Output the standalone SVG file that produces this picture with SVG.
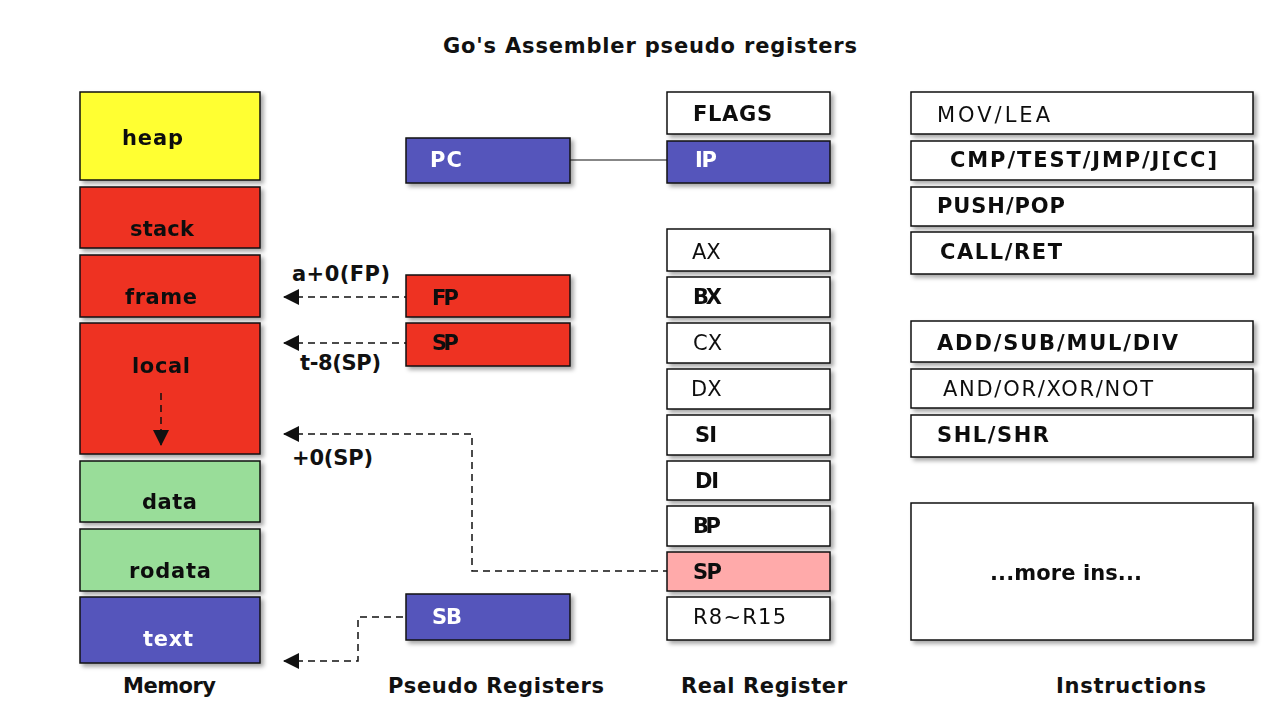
<svg xmlns="http://www.w3.org/2000/svg" width="1282" height="714" viewBox="0 0 1282 714">
<style>
.b{stroke:#111;stroke-width:1.5}
.y{fill:#FFFF33}.r{fill:#EE3322}.g{fill:#99DD99}.u{fill:#5555BB}.w{fill:#FFFFFF}.p{fill:#FFAAAA}
text{font-family:"DejaVu Sans","Liberation Sans",sans-serif;font-weight:bold;font-size:21px;fill:#111}
.lt{font-weight:normal}
.wt{fill:#FFFFFF}
.d{fill:none;stroke:#111;stroke-width:1.5;stroke-dasharray:7,5}
</style>
<defs>
<filter id="sh" x="-10%" y="-10%" width="130%" height="140%">
<feDropShadow dx="3" dy="3" stdDeviation="2" flood-color="#000" flood-opacity="0.35"/>
</filter>
<marker id="ad" viewBox="0 0 16 16" refX="15" refY="8" markerWidth="16" markerHeight="16" markerUnits="userSpaceOnUse" orient="auto-start-reverse">
<path d="M0,0 L16,8 L0,16 Z" fill="#111"/>
</marker>
</defs>
<rect width="1282" height="714" fill="#FFFFFF"/>
<text x="443" y="53" textLength="414">Go's Assembler pseudo registers</text>

<g id="memory" filter="url(#sh)">
<g id="heap"><rect class="b y" x="80" y="92" width="180" height="88"/><text x="122" y="145" textLength="61">heap</text></g>
<g id="stack"><rect class="b r" x="80" y="187" width="180" height="61"/><text x="130" y="236" textLength="64">stack</text></g>
<g id="frame"><rect class="b r" x="80" y="255" width="180" height="62"/><text x="125" y="304" textLength="72">frame</text></g>
<g id="local"><rect class="b r" x="80" y="323" width="180" height="131"/><text x="132" y="373" textLength="58">local</text></g>
<g id="data"><rect class="b g" x="80" y="461" width="180" height="61"/><text x="142" y="509" textLength="55">data</text></g>
<g id="rodata"><rect class="b g" x="80" y="529" width="180" height="62"/><text x="129" y="578" textLength="82">rodata</text></g>
<g id="textseg"><rect class="b u" x="80" y="597" width="180" height="66"/><text class="wt" x="143" y="646" textLength="50">text</text></g>
</g>

<g id="pseudo" filter="url(#sh)">
<g id="pc"><rect class="b u" x="406" y="138" width="164" height="45"/><text class="wt" x="430" y="167" textLength="32">PC</text></g>
<g id="fp"><rect class="b r" x="406" y="275" width="164" height="42"/><text x="432" y="305" textLength="27">FP</text></g>
<g id="psp"><rect class="b r" x="406" y="323" width="164" height="43"/><text x="432" y="350" textLength="27">SP</text></g>
<g id="sb"><rect class="b u" x="406" y="594" width="164" height="46"/><text class="wt" x="432" y="624" textLength="30">SB</text></g>
</g>

<g id="real" filter="url(#sh)">
<g id="flags"><rect class="b w" x="667" y="92" width="163" height="42"/><text x="693" y="121" textLength="79">FLAGS</text></g>
<g id="ip"><rect class="b u" x="667" y="141" width="163" height="42"/><text class="wt" x="695" y="167" textLength="22">IP</text></g>
<g id="ax"><rect class="b w" x="667" y="229" width="163" height="42"/><text class="lt" x="692" y="259" font-size="20">AX</text></g>
<g id="bx"><rect class="b w" x="667" y="277" width="163" height="40"/><text x="693" y="304" textLength="29">BX</text></g>
<g id="cx"><rect class="b w" x="667" y="323" width="163" height="40"/><text class="lt" x="693" y="350" font-size="20">CX</text></g>
<g id="dx"><rect class="b w" x="667" y="369" width="163" height="40"/><text class="lt" x="691" y="396" font-size="20">DX</text></g>
<g id="si"><rect class="b w" x="667" y="415" width="163" height="40"/><text x="695" y="442" textLength="22">SI</text></g>
<g id="di"><rect class="b w" x="667" y="461" width="163" height="39"/><text x="695" y="488" textLength="24">DI</text></g>
<g id="bp"><rect class="b w" x="667" y="506" width="163" height="40"/><text x="693" y="533" textLength="28">BP</text></g>
<g id="rsp"><rect class="b p" x="667" y="552" width="163" height="39"/><text x="693" y="579" textLength="29">SP</text></g>
<g id="r8"><rect class="b w" x="667" y="597" width="163" height="43"/><text class="lt" x="693" y="624" textLength="93">R8~R15</text></g>
</g>

<g id="instructions" filter="url(#sh)">
<g id="i1"><rect class="b w" x="911" y="92" width="342" height="42"/><text class="lt" x="937" y="122" textLength="113">MOV/LEA</text></g>
<g id="i2"><rect class="b w" x="911" y="141" width="342" height="39"/><text x="950" y="167" textLength="267">CMP/TEST/JMP/J[CC]</text></g>
<g id="i3"><rect class="b w" x="911" y="187" width="342" height="39"/><text x="937" y="213" textLength="128">PUSH/POP</text></g>
<g id="i4"><rect class="b w" x="911" y="232" width="342" height="42"/><text x="940" y="259" textLength="122">CALL/RET</text></g>
<g id="i5"><rect class="b w" x="911" y="321" width="342" height="41"/><text x="937" y="350" textLength="241">ADD/SUB/MUL/DIV</text></g>
<g id="i6"><rect class="b w" x="911" y="369" width="342" height="39"/><text class="lt" x="943" y="396" textLength="210">AND/OR/XOR/NOT</text></g>
<g id="i7"><rect class="b w" x="911" y="415" width="342" height="42"/><text x="937" y="442" textLength="112">SHL/SHR</text></g>
<g id="i8"><rect class="b w" x="911" y="503" width="342" height="137"/><text x="990" y="580" textLength="152">...more ins...</text></g>
</g>

<g id="connectors">
<line x1="570" y1="160" x2="667" y2="160" stroke="#111" stroke-width="1.2"/>
<path class="d" d="M284,297 H406" marker-start="url(#ad)"/>
<path class="d" d="M284,343 H406" marker-start="url(#ad)"/>
<path class="d" d="M284,434 H472 V571 H667" marker-start="url(#ad)"/>
<path class="d" d="M284,661 H358 V617 H406" marker-start="url(#ad)"/>
<path class="d" d="M161,393 V445" marker-end="url(#ad)"/>
</g>

<g id="labels">
<text x="292" y="281" textLength="98">a+0(FP)</text>
<text x="300" y="370" textLength="81">t-8(SP)</text>
<text x="292" y="465" textLength="81">+0(SP)</text>
<text x="123" y="693" textLength="93">Memory</text>
<text x="388" y="693" textLength="216">Pseudo Registers</text>
<text x="681" y="693" textLength="166">Real Register</text>
<text x="1056" y="693" textLength="150">Instructions</text>
</g>
</svg>
